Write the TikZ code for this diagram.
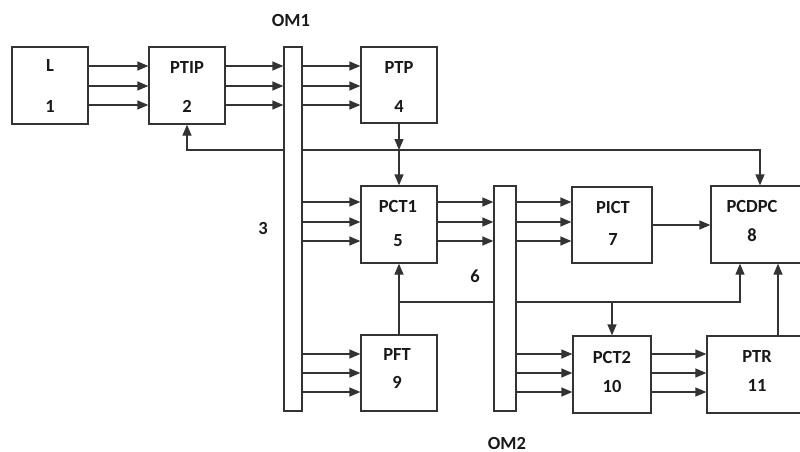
\documentclass[tikz,border=0pt]{standalone}
\usepackage{fontspec}
\setmainfont{Carlito}
\usetikzlibrary{arrows.meta,backgrounds}
\tikzset{
  blk/.style={draw=black!80, line width=1.3pt, fill=white, inner sep=0pt},
  bar/.style={draw=black!80, line width=1.3pt, fill=white, inner sep=0pt},
  txt/.style={font=\fontsize{18.5}{22}\selectfont\bfseries, text=black!90, inner sep=0pt},
  arr/.style={draw=black!80, line width=1.3pt, -{Triangle[length=11pt,width=9pt]}},
  arrb/.style={draw=black!80, line width=1.3pt, {Triangle[length=11pt,width=9pt]}-{Triangle[length=11pt,width=9pt]}},
}
\begin{document}
\begin{tikzpicture}[x=1pt, y=-1pt]
\useasboundingbox (0,0) rectangle (800,452);
\clip (0,0) rectangle (800,452);
% Bloecke
\node[blk, minimum width=76, minimum height=77] (L) at (50,85.5) {};
\node[blk, minimum width=76, minimum height=77] (PTIP) at (187,85.5) {};
\node[blk, minimum width=76, minimum height=76] (PTP) at (399,85) {};
\node[blk, minimum width=76, minimum height=77] (PCT1) at (399,224.5) {};
\node[blk, minimum width=76, minimum height=76] (PFT) at (399,373) {};
\node[blk, minimum width=80, minimum height=76] (PICT) at (612,225) {};
\node[blk, minimum width=78, minimum height=77] (PCT2) at (612,374.5) {};
\node[blk, minimum width=98, minimum height=77] (PCDPC) at (760,224.5) {};
\node[blk, minimum width=103, minimum height=77] (PTR) at (758.5,374.5) {};
% Sammelschienen
\node[bar, minimum width=18, minimum height=364] (OM1) at (293,229) {};
\node[bar, minimum width=22, minimum height=225] (OM2) at (505,298.5) {};
% Text
\node[txt] (Lt) at (50,66) {L};
\node[txt] (Ln) at (50,106) {1};
\node[txt] (PTIPt) at (187,68) {PTIP};
\node[txt] (PTIPn) at (187,106) {2};
\node[txt] (PTPt) at (399,68) {PTP};
\node[txt] (PTPn) at (399,106) {4};
\node[txt] (PCT1t) at (398,206) {PCT1};
\node[txt] (PCT1n) at (398,241) {5};
\node[txt] (PICTt) at (613,207) {PICT};
\node[txt] (PICTn) at (613,239) {7};
\node[txt] (PCDPCt) at (752,206) {PCDPC};
\node[txt] (PCDPCn) at (752,235) {8};
\node[txt] (PFTt) at (397,354) {PFT};
\node[txt] (PFTn) at (397,382) {9};
\node[txt] (PCT2t) at (612,357) {PCT2};
\node[txt] (PCT2n) at (612,386) {10};
\node[txt] (PTRt) at (757,356) {PTR};
\node[txt] (PTRn) at (757,385) {11};
\node[txt] (OM1t) at (291,20) {OM1};
\node[txt] (OM2t) at (507,443) {OM2};
\node[txt] (n3) at (263,228) {3};
\node[txt] (n6) at (475,276) {6};
% Pfeile
\foreach \y in {66,86,105} {
  \draw[arr] (L.east |- 0,\y) -- (PTIP.west |- 0,\y);
  \draw[arr] (PTIP.east |- 0,\y) -- (OM1.west |- 0,\y);
  \draw[arr] (OM1.east |- 0,\y) -- (PTP.west |- 0,\y);
}
\foreach \y in {202,222,241} {
  \draw[arr] (OM1.east |- 0,\y) -- (PCT1.west |- 0,\y);
  \draw[arr] (PCT1.east |- 0,\y) -- (OM2.west |- 0,\y);
  \draw[arr] (OM2.east |- 0,\y) -- (PICT.west |- 0,\y);
}
\foreach \y in {354,373,392} {
  \draw[arr] (OM1.east |- 0,\y) -- (PFT.west |- 0,\y);
  \draw[arr] (OM2.east |- 0,\y) -- (PCT2.west |- 0,\y);
  \draw[arr] (PCT2.east |- 0,\y) -- (PTR.west |- 0,\y);
}
\coordinate (j1) at (PTP.south |- 0,150);
\coordinate (j2) at (PFT.north |- 0,302);
\draw[arr] (PTP.south) -- (j1);
\draw[arr] (j1) -- (PCT1.north);
\draw[arr] (PFT.north) -- (PCT1.south);
\draw[arr] (PICT.east) -- (PICT.east -| PCDPC.west);
\draw[arr] (PTR.north -| 778,0) -- (PCDPC.south -| 778,0);
\draw[arr] (PCT2.north |- j2) -- (PCT2.north);
% Rueckfuehrung (hinter den Schienen)
\begin{scope}[on background layer]
\draw[arrb] (PTIP.south) |- (PCDPC.north |- j1) -- (PCDPC.north);
\draw[arr] (j2) -| ([xshift=-20]PCDPC.south);
\end{scope}
\end{tikzpicture}
\end{document}
